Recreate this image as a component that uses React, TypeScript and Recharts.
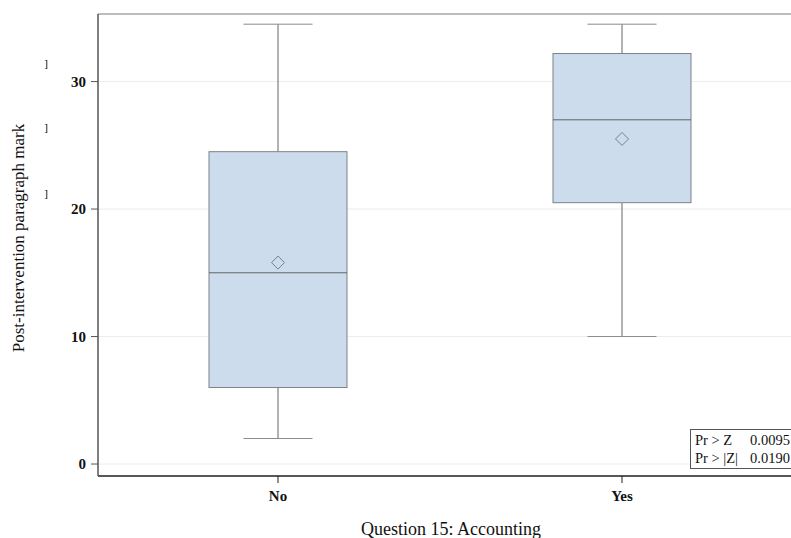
import React from "react";
import {
  ComposedChart,
  Bar,
  Scatter,
  XAxis,
  YAxis,
  CartesianGrid,
  ReferenceLine,
  Label,
} from "recharts";

const categories = ["No", "Yes"];
const minValues = [2, 10];
const q1Values = [6, 20.5];
const medianValues = [15, 27];
const q3Values = [24.5, 32.2];
const maxValues = [34.5, 34.5];
const meanValues = [15.8, 25.5];
const yTicks = [0, 10, 20, 30];
const yDomain: [number, number] = [-0.94, 35.3];
const statRows = [
  { label: "Pr > Z", value: "0.0095" },
  { label: "Pr > |Z|", value: "0.0190" },
];

const data = categories.map((c, i) => ({
  cat: c,
  range: [minValues[i], maxValues[i]],
  min: minValues[i],
  q1: q1Values[i],
  median: medianValues[i],
  q3: q3Values[i],
  max: maxValues[i],
  mean: meanValues[i],
}));

const FONT = "'Liberation Serif', 'DejaVu Serif', serif";

const BoxShape = (props: any) => {
  const { x, y, width, height, payload } = props;
  if (payload == null || height == null) return null;
  const { min, q1, median, q3, max } = payload;
  const k = height / (max - min);
  const py = (v: number) => y + (max - v) * k;
  const cx = x + width / 2;
  const capHalf = width / 4;
  return (
    <g>
      <line x1={cx} x2={cx} y1={py(max)} y2={py(q3)} stroke="#666" strokeWidth={1} />
      <line x1={cx} x2={cx} y1={py(q1)} y2={py(min)} stroke="#666" strokeWidth={1} />
      <line x1={cx - capHalf} x2={cx + capHalf} y1={py(max)} y2={py(max)} stroke="#8c8c8c" strokeWidth={1} />
      <line x1={cx - capHalf} x2={cx + capHalf} y1={py(min)} y2={py(min)} stroke="#8c8c8c" strokeWidth={1} />
      <rect
        x={x}
        y={py(q3)}
        width={width}
        height={py(q1) - py(q3)}
        fill="#cddcec"
        stroke="#7d8288"
        strokeWidth={1}
      />
      <line x1={x} x2={x + width} y1={py(median)} y2={py(median)} stroke="#5f6368" strokeWidth={1} />
    </g>
  );
};

const Diamond = (props: any) => {
  const { cx, cy } = props;
  if (cx == null || cy == null) return null;
  const r = 6.5;
  return (
    <path
      d={`M${cx},${cy - r} L${cx + r},${cy} L${cx},${cy + r} L${cx - r},${cy} Z`}
      fill="none"
      stroke="#7a7f86"
      strokeWidth={1}
    />
  );
};

export default function App() {
  return (
    <div
      style={{
        position: "absolute",
        left: 0,
        top: 0,
        width: 791,
        height: 538,
        overflow: "hidden",
        background: "#fff",
      }}
    >
      <ComposedChart
        width={794}
        height={538}
        data={data}
        margin={{ top: 14, right: 0, left: 0, bottom: 0 }}
      >
        <CartesianGrid vertical={false} stroke="#ececec" />
        <ReferenceLine y={yDomain[1]} stroke="#aaaaaa" strokeWidth={1.5} />
        <XAxis
          dataKey="cat"
          type="category"
          padding={{ left: 8, right: 0 }}
          height={62}
          tickSize={7}
          tickMargin={7}
          stroke="#222"
          axisLine={{ stroke: "#222", strokeWidth: 1.5 }}
          tickLine={{ stroke: "#222" }}
          tick={{ fill: "#111", fontSize: 15, fontWeight: "bold", fontFamily: FONT }}
        >
          <Label
            value="Question 15: Accounting"
            position="insideBottom"
            offset={3}
            dx={5}
            style={{ fill: "#111", fontSize: 18, fontFamily: FONT }}
          />
        </XAxis>
        <YAxis
          type="number"
          domain={yDomain}
          ticks={yTicks}
          allowDataOverflow
          width={98}
          tickSize={7}
          tickMargin={5}
          axisLine={{ stroke: "#555", strokeWidth: 1.5 }}
          tickLine={{ stroke: "#555" }}
          tick={{ fill: "#111", fontSize: 15, fontWeight: "bold", fontFamily: FONT }}
        >
          <Label
            value="Post-intervention paragraph mark"
            angle={-90}
            position="insideLeft"
            offset={18}
            dy={-7}
            style={{ fill: "#111", fontSize: 17, fontFamily: FONT, textAnchor: "middle" }}
          />
        </YAxis>
        <Bar
          dataKey="range"
          barSize={138}
          shape={<BoxShape />}
          isAnimationActive={false}
        />
        <Scatter dataKey="mean" shape={<Diamond />} isAnimationActive={false} />
      </ComposedChart>
      <svg
        width={791}
        height={538}
        style={{ position: "absolute", left: 0, top: 0, pointerEvents: "none" }}
      >
        {[63, 127, 193].map((yy) => (
          <text
            key={yy}
            x={46}
            y={yy + 4}
            fontSize={11}
            fontFamily={FONT}
            fill="#000"
            textAnchor="middle"
          >
            ]
          </text>
        ))}
        <rect x={690.5} y={429.5} width={110} height={39} fill="#fff" stroke="#555" strokeWidth={1} />
        {statRows.map((r, i) => (
          <g key={r.label}>
            <text x={695} y={445 + i * 18} fontSize={14.5} fontFamily={FONT} fill="#111">
              {r.label}
            </text>
            <text x={750} y={445 + i * 18} fontSize={14.5} fontFamily={FONT} fill="#111">
              {r.value}
            </text>
          </g>
        ))}
      </svg>
    </div>
  );
}
